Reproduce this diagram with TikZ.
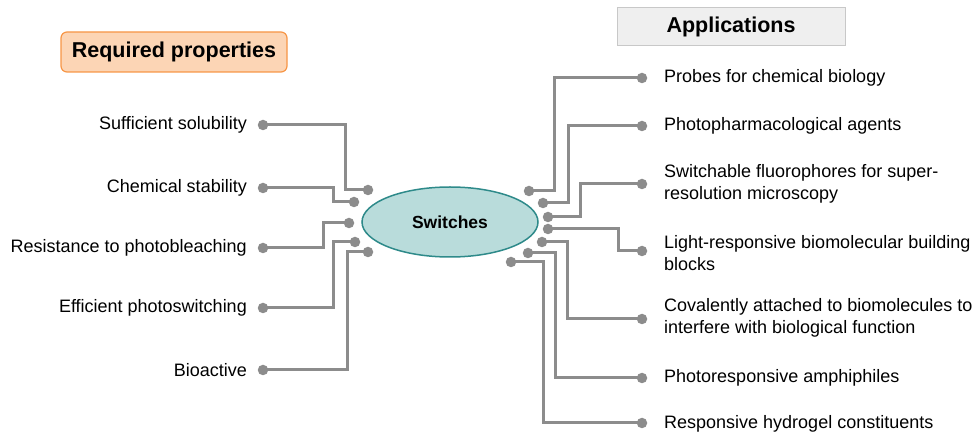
\documentclass[tikz,border=0pt]{standalone}
\usepackage{fontspec}
\setmainfont{Liberation Sans}
\usetikzlibrary{shapes.geometric}
\definecolor{linegray}{RGB}{140,140,140}
\definecolor{ellfill}{RGB}{185,220,219}
\definecolor{elldraw}{RGB}{46,138,138}
\definecolor{orfill}{RGB}{252,213,181}
\definecolor{ordraw}{RGB}{247,150,70}
\definecolor{apfill}{RGB}{239,239,239}
\definecolor{apdraw}{RGB}{200,200,200}
\tikzset{
  dotnode/.style={circle,fill=linegray,inner sep=0pt,minimum size=10.5pt},
  conn/.style={draw=linegray,line width=3pt},
  lefttxt/.style={anchor=east,inner sep=0pt,font=\fontsize{18}{22}\selectfont},
  righttxt/.style={anchor=west,inner sep=0pt,align=left,font=\fontsize{18}{22}\selectfont},
  titlefont/.style={font=\fontsize{21.5}{24}\selectfont\bfseries}
}
\begin{document}
\begin{tikzpicture}[x=1pt,y=-1pt]
\useasboundingbox (0,0) rectangle (975,435);
% title boxes
\node[titlefont,draw=ordraw,fill=orfill,line width=1.2pt,rounded corners=6pt,minimum width=226pt,minimum height=40pt,inner sep=0pt] (req) at (174,52) {Required properties};
\node[titlefont,draw=apdraw,fill=apfill,line width=1pt,minimum width=228pt,minimum height=38pt,inner sep=0pt] (app) at (731,27) {Applications};
% centre ellipse
\node[ellipse,draw=elldraw,fill=ellfill,line width=1.5pt,minimum width=176pt,minimum height=70pt,inner sep=0pt,font=\fontsize{17.5}{20}\selectfont\bfseries] (sw) at (450,222) {Switches};
% left dots
\node[dotnode] (lo1) at (263,125) {};
\node[dotnode] (lo2) at (263,188) {};
\node[dotnode] (lo3) at (263,248) {};
\node[dotnode] (lo4) at (263,308) {};
\node[dotnode] (lo5) at (263,370) {};
\node[dotnode] (li1) at (368,190) {};
\node[dotnode] (li2) at (354,202) {};
\node[dotnode] (li3) at (349,223) {};
\node[dotnode] (li4) at (355,242) {};
\node[dotnode] (li5) at (368,252) {};
% left labels
\node[lefttxt] (t1) at (247,125) {Sufficient solubility};
\node[lefttxt] (t2) at (247,188) {Chemical stability};
\node[lefttxt] (t3) at (247,248) {Resistance to photobleaching};
\node[lefttxt] (t4) at (247,308) {Efficient photoswitching};
\node[lefttxt] (t5) at (247,370) {Bioactive};
% left connectors
\draw[conn] (lo1.center) -- ++(82,0) |- (li1.center);
\draw[conn] (lo2.center) -- ++(70,0) |- (li2.center);
\draw[conn] (lo3.center) -- ++(60,0) |- (li3.center);
\draw[conn] (lo4.center) -- ++(70,0) |- (li4.center);
\draw[conn] (lo5.center) -- ++(84,0) |- (li5.center);
% right dots
\node[dotnode] (ri1) at (529,191) {};
\node[dotnode] (ri2) at (543,203) {};
\node[dotnode] (ri3) at (548,217) {};
\node[dotnode] (ri4) at (548,229) {};
\node[dotnode] (ri5) at (542,242) {};
\node[dotnode] (ri6) at (528,253) {};
\node[dotnode] (ri7) at (511,262) {};
\node[dotnode] (ro1) at (642,78) {};
\node[dotnode] (ro2) at (642,126) {};
\node[dotnode] (ro3) at (642,184) {};
\node[dotnode] (ro4) at (642,251) {};
\node[dotnode] (ro5) at (642,319) {};
\node[dotnode] (ro6) at (642,378) {};
\node[dotnode] (ro7) at (642,423) {};
% right labels
\node[righttxt] (a1) at (664,78) {Probes for chemical biology};
\node[righttxt] (a2) at (664,126) {Photopharmacological agents};
\node[righttxt] (a3) at (664,184) {Switchable fluorophores for super-\\resolution microscopy};
\node[righttxt] (a4) at (664,253) {Light-responsive biomolecular building\\blocks};
\node[righttxt] (a5) at (664,318) {Covalently attached to biomolecules to\\interfere with biological function};
\node[righttxt] (a6) at (664,378) {Photoresponsive amphiphiles};
\node[righttxt] (a7) at (664,424) {Responsive hydrogel constituents};
% right connectors
\draw[conn] (ri1.center) -- ++(25,0) |- (ro1.center);
\draw[conn] (ri2.center) -- ++(25,0) |- (ro2.center);
\draw[conn] (ri3.center) -- ++(32,0) |- (ro3.center);
\draw[conn] (ri4.center) -- ++(70,0) |- (ro4.center);
\draw[conn] (ri5.center) -- ++(25,0) |- (ro5.center);
\draw[conn] (ri6.center) -- ++(27,0) |- (ro6.center);
\draw[conn] (ri7.center) -- ++(32,0) |- (ro7.center);
\end{tikzpicture}
\end{document}
